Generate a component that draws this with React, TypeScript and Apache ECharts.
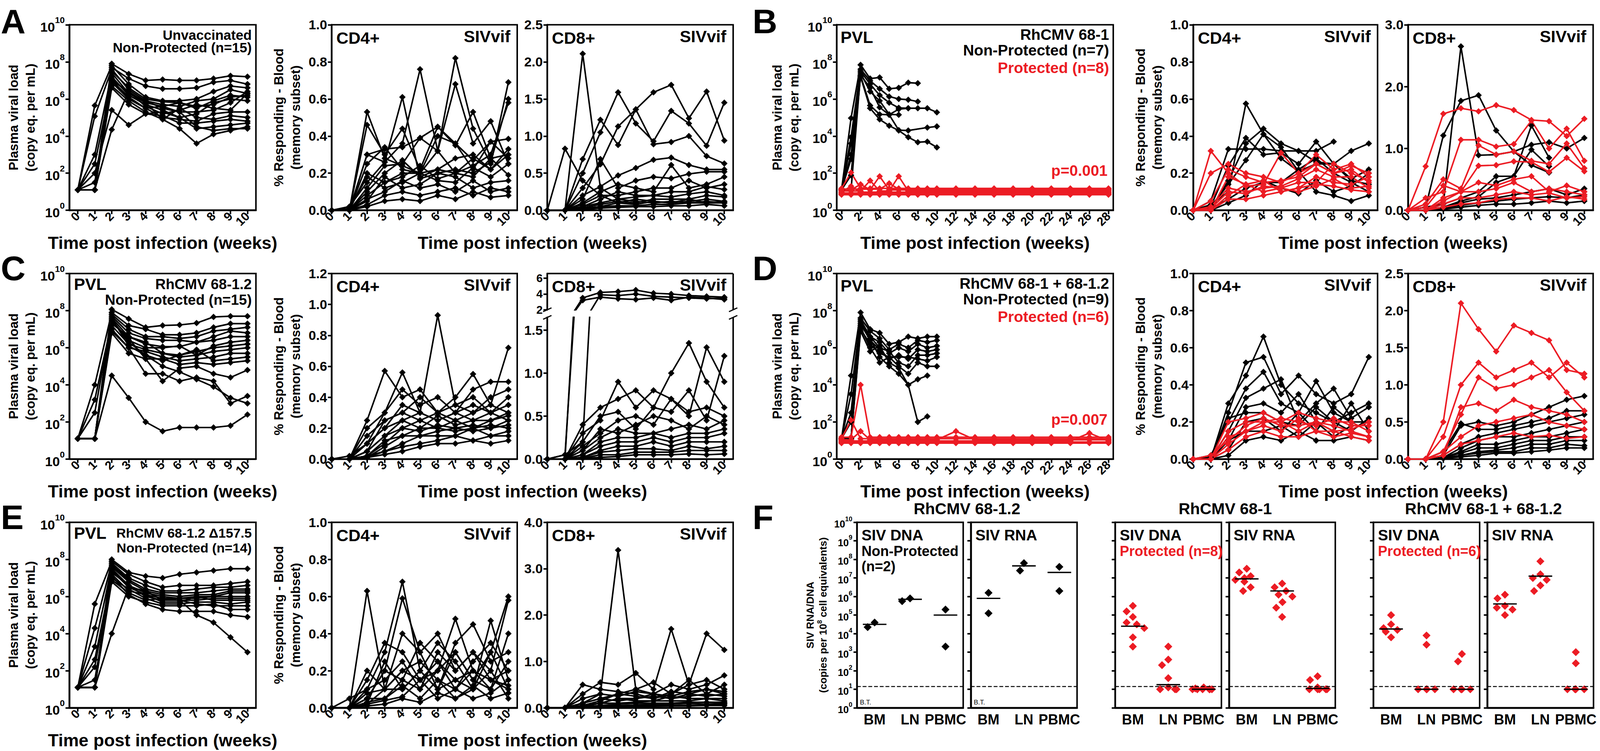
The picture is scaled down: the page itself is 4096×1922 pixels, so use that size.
import React, { useEffect, useRef } from "react";
import * as echarts from "echarts";

const S = 0.975;
const FONT = "'Liberation Sans', Arial, Helvetica, sans-serif";
const BLACK = "#000000";
const RED = "#ec1c24";

// ---------- axes, ticks, categories ----------
const WEEKS = [0, 1, 2, 3, 4, 5, 6, 7, 8, 9, 10];
const WEEKS_LONG = [0, 1, 2, 3, 4, 5, 6, 7, 8, 9, 10, 12, 14, 16, 18, 20, 22, 24, 26, 28];
const WEEK_TICKS_LONG = [0, 2, 4, 6, 8, 10, 12, 14, 16, 18, 20, 22, 24, 26, 28];
const PVL_TICKS = [0, 2, 4, 6, 8, 10]; // log10 exponents
const CD_TICKS_10 = [0, 0.2, 0.4, 0.6, 0.8, 1.0];
const CD_TICKS_12 = [0, 0.2, 0.4, 0.6, 0.8, 1.0, 1.2];
const CD8_TICKS_25 = [0, 0.5, 1.0, 1.5, 2.0, 2.5];
const CD8_TICKS_3 = [0, 1, 2, 3];
const CD8_TICKS_4 = [0, 1, 2, 3, 4];
const CD8C_UPPER_TICKS = [2, 4, 6];
const CD8C_LOWER_TICKS = [0, 0.5, 1.0, 1.5];
const F_TICKS = [0, 1, 2, 3, 4, 5, 6, 7, 8, 9, 10];
const F_CATEGORIES = ["BM", "LN", "PBMC"];
const F_LOD_LOG10 = 1.15;

// ---------- A: Unvaccinated (log10 copies/mL) ----------
const pvlA_log10 = [
  [1.1, 1.1, 7.9, 7.35, 7.0, 7.05, 7.0, 7.0, 7.1, 7.25, 7.2],
  [1.1, 1.1, 7.7, 7.1, 6.7, 6.55, 6.55, 6.6, 6.9, 7.0, 6.8],
  [1.1, 5.65, 7.8, 6.8, 6.1, 5.9, 5.9, 6.0, 6.4, 6.7, 6.6],
  [1.1, 1.1, 7.5, 6.6, 6.0, 5.85, 5.8, 5.6, 5.7, 6.1, 6.2],
  [1.1, 5.07, 7.6, 6.5, 5.9, 5.5, 5.3, 5.3, 5.4, 5.8, 6.4],
  [1.1, 1.1, 7.2, 6.2, 5.7, 5.4, 5.0, 5.2, 5.8, 6.0, 5.9],
  [1.1, 1.1, 7.0, 6.4, 5.6, 5.2, 5.4, 5.7, 5.5, 5.4, 6.3],
  [1.1, 2.5, 6.9, 6.0, 5.5, 5.0, 4.9, 4.8, 5.2, 5.3, 5.3],
  [1.1, 1.1, 6.7, 5.9, 5.3, 4.9, 5.5, 5.0, 4.9, 5.1, 5.0],
  [1.1, 1.1, 6.6, 5.7, 5.2, 5.1, 4.7, 4.7, 4.8, 4.9, 4.8],
  [1.1, 2.0, 5.4, 4.6, 5.2, 5.3, 5.0, 4.4, 4.5, 4.6, 4.7],
  [1.1, 1.1, 4.35, 6.4, 5.8, 5.6, 5.3, 4.5, 4.3, 4.4, 4.4],
  [1.1, 3.0, 7.4, 6.3, 5.8, 4.9, 4.4, 3.6, 4.1, 4.3, 4.5],
  [1.1, 1.1, 7.0, 6.1, 5.5, 5.6, 5.8, 5.5, 5.9, 6.2, 6.1],
  [1.1, 1.5, 7.1, 6.3, 5.9, 5.7, 5.6, 5.9, 6.0, 6.5, 6.3],
];
const cd4A = [
  [0, 0, 0.3, 0.26, 0.36, 0.76, 0.32, 0.2, 0.28, 0.22, 0.3],
  [0, 0, 0.2, 0.15, 0.2, 0.2, 0.32, 0.82, 0.44, 0.25, 0.69],
  [0, 0.02, 0.15, 0.26, 0.61, 0.17, 0.2, 0.22, 0.2, 0.26, 0.6],
  [0, 0, 0.53, 0.28, 0.24, 0.2, 0.22, 0.2, 0.24, 0.3, 0.58],
  [0, 0, 0.46, 0.3, 0.44, 0.22, 0.45, 0.35, 0.53, 0.28, 0.3],
  [0, 0, 0.12, 0.24, 0.25, 0.39, 0.32, 0.68, 0.36, 0.48, 0.25],
  [0, 0, 0.3, 0.33, 0.34, 0.39, 0.45, 0.36, 0.22, 0.37, 0.28],
  [0, 0, 0.25, 0.34, 0.22, 0.2, 0.4, 0.36, 0.27, 0.37, 0.385],
  [0, 0, 0.1, 0.2, 0.27, 0.18, 0.22, 0.28, 0.3, 0.22, 0.33],
  [0, 0, 0.08, 0.15, 0.18, 0.24, 0.17, 0.2, 0.18, 0.28, 0.19],
  [0, 0.01, 0.18, 0.12, 0.15, 0.2, 0.16, 0.15, 0.23, 0.18, 0.25],
  [0, 0, 0.05, 0.18, 0.12, 0.14, 0.2, 0.18, 0.12, 0.15, 0.16],
  [0, 0, 0.06, 0.1, 0.16, 0.12, 0.14, 0.1, 0.16, 0.1, 0.12],
  [0, 0, 0.03, 0.08, 0.1, 0.08, 0.1, 0.12, 0.08, 0.12, 0.1],
  [0, 0, 0.02, 0.05, 0.06, 0.05, 0.08, 0.06, 0.1, 0.07, 0.08],
];
const cd8A = [
  [0, 0, 2.11, 0.3, 0.15, 0.12, 0.1, 0.12, 0.1, 0.12, 0.1],
  [0, 0.83, 0.4, 0.2, 0.1, 0.15, 0.12, 0.1, 0.15, 0.1, 0.12],
  [0, 0, 0.5, 1.05, 1.59, 1.17, 0.93, 1.34, 1.17, 0.87, 1.45],
  [0, 0, 0.69, 1.22, 0.88, 1.36, 1.59, 1.69, 1.24, 1.6, 0.94],
  [0, 0, 0.3, 0.62, 1.13, 1.36, 0.89, 0.92, 1.0, 0.73, 0.63],
  [0, 0, 0.2, 0.32, 0.47, 0.57, 0.68, 0.71, 0.61, 0.55, 0.55],
  [0, 0, 0.15, 0.69, 0.3, 0.4, 0.45, 0.43, 0.49, 0.52, 0.52],
  [0, 0, 0.1, 0.25, 0.35, 0.3, 0.25, 0.61, 0.3, 0.35, 0.45],
  [0, 0, 0.08, 0.2, 0.2, 0.25, 0.3, 0.3, 0.4, 0.3, 0.35],
  [0, 0, 0.05, 0.15, 0.25, 0.2, 0.2, 0.25, 0.25, 0.32, 0.28],
  [0, 0, 0.05, 0.1, 0.15, 0.18, 0.2, 0.18, 0.22, 0.25, 0.2],
  [0, 0, 0.03, 0.08, 0.12, 0.1, 0.15, 0.15, 0.15, 0.2, 0.18],
  [0, 0, 0.02, 0.05, 0.1, 0.08, 0.12, 0.1, 0.12, 0.15, 0.12],
  [0, 0, 0.02, 0.05, 0.06, 0.06, 0.08, 0.08, 0.1, 0.1, 0.1],
  [0, 0, 0.01, 0.03, 0.04, 0.05, 0.05, 0.06, 0.06, 0.08, 0.06],
];

// ---------- B: RhCMV 68-1 ----------
const pvlB_nonProtected_log10 = [
  [1.1, 4.97, 7.84, 7.1, 7.16, 6.55, 6.6, 6.88, 6.85],
  [1.1, 3.94, 7.6, 6.98, 6.55, 6.13, 6.0, 5.96, 5.86],
  [1.1, 3.6, 7.5, 6.8, 6.2, 5.8, 5.52, 5.5, 5.5, 5.5, 5.28],
  [1.1, 2.77, 7.3, 6.6, 5.55, 5.15, 5.45, 5.5],
  [1.1, 1.89, 7.25, 5.65, 5.17, 5.15, 4.32, 4.3, null, 4.46, 4.52],
  [1.1, 3.0, 7.2, 5.5, 4.9, 4.56, 4.3, 3.94, 3.67, 3.7, 3.39],
  [1.1, 1.1, 7.4, 6.4, 5.9, 5.17, 5.15],
];
const pvlB_protected_log10 = [
  [1.18, 2.03, 1.18, 1.18, 1.18, 1.18, 1.18, 1.18, 1.18, 1.18, 1.18, 1.18, 1.18, 1.18, 1.18, 1.18, 1.18, 1.18, 1.18, 1.18],
  [1.1, 1.1, 1.4, 1.1, 1.83, 1.1, 1.1, 1.1, 1.1, 1.1, 1.1, 1.1, 1.1, 1.1, 1.1, 1.1, 1.1, 1.1, 1.1, 1.1],
  [1.04, 1.04, 1.04, 1.6, 1.04, 1.04, 1.83, 1.04, 1.04, 1.04, 1.04, 1.04, 1.04, 1.04, 1.04, 1.04, 1.04, 1.04, 1.04, 1.04],
  [0.98, 1.3, 0.98, 0.98, 0.98, 0.98, 0.98, 0.98, 0.98, 0.98, 0.98, 0.98, 0.98, 0.98, 0.98, 0.98, 0.98, 0.98, 0.98, 0.98],
  [0.93, 0.93, 0.93, 0.93, 0.93, 0.93, 0.93, 0.93, 0.93, 0.93, 0.93, 0.93, 0.93, 0.93, 0.93, 0.93, 0.93, 0.93, 0.93, 0.93],
  [0.88, 0.88, 0.88, 0.88, 0.88, 0.88, 0.88, 0.88, 0.88, 0.88, 0.88, 0.88, 0.88, 0.88, 0.88, 0.88, 0.88, 0.88, 0.88, 0.88],
  [0.84, 0.84, 0.84, 0.84, 0.84, 0.84, 0.84, 0.84, 0.84, 0.84, 0.84, 0.84, 0.84, 0.84, 0.84, 0.84, 0.84, 0.84, 0.84, 0.84],
  [1.14, 1.14, 1.14, 1.14, 1.14, 1.45, 1.14, 1.14, 1.14, 1.14, 1.14, 1.14, 1.14, 1.14, 1.14, 1.14, 1.14, 1.14, 1.14, 1.14],
];
const cd4B_nonProtected = [
  [0, 0.03, 0.1, 0.575, 0.41, 0.28, 0.21, 0.1, 0.08, 0.05, 0.08],
  [0, 0.05, 0.33, 0.33, 0.33, 0.32, 0.32, 0.26, 0.25, 0.32, 0.36],
  [0, 0.02, 0.24, 0.39, 0.3, 0.31, 0.25, 0.37, 0.25, 0.17, 0.22],
  [0, 0, 0.16, 0.36, 0.44, 0.36, 0.32, 0.32, 0.37],
  [0, 0.02, 0.14, 0.27, 0.41, 0.34, 0.21, 0.25, 0.25, 0.16, 0.14],
  [0, 0.01, 0.06, 0.12, 0.15, 0.15, 0.22, 0.28, 0.2, 0.15, 0.1],
  [0, 0, 0.04, 0.08, 0.16, 0.12, 0.09, 0.16, 0.1, 0.13, 0.2],
];
const cd4B_protected = [
  [0, 0.32, 0.2, 0.13, 0.14, 0.31, 0.2, 0.3, 0.22, 0.25, 0.18],
  [0, 0.2, 0.25, 0.2, 0.18, 0.15, 0.2, 0.25, 0.2, 0.24, 0.2],
  [0, 0.05, 0.22, 0.18, 0.15, 0.16, 0.18, 0.25, 0.2, 0.22, 0.15],
  [0, 0.02, 0.12, 0.1, 0.12, 0.13, 0.17, 0.22, 0.18, 0.18, 0.12],
  [0, 0, 0.18, 0.14, 0.1, 0.12, 0.15, 0.15, 0.25, 0.2, 0.16],
  [0, 0, 0.08, 0.14, 0.16, 0.1, 0.12, 0.18, 0.15, 0.14, 0.18],
  [0, 0.01, 0.1, 0.09, 0.13, 0.12, 0.1, 0.13, 0.17, 0.12, 0.13],
  [0, 0, 0.06, 0.06, 0.08, 0.1, 0.12, 0.14, 0.13, 0.11, 0.1],
];
const cd8B_nonProtected = [
  [0, 0.05, 0.1, 2.65, 0.89, 0.9, 0.95, 1.06, 1.1, 1.0, 1.17],
  [0, 0.05, 1.21, 1.77, 1.86, 1.29, 0.95, 0.73, 0.61],
  [0, 0, 0.1, 0.2, 0.3, 0.55, 0.55, 1.37, 0.85],
  [0, 0, 0.05, 0.15, 0.22, 0.45, 0.55, 0.98, 0.71],
  [0, 0, 0.05, 0.12, 0.18, 0.2, 0.25, 0.3, 0.35, 0.25, 0.35],
  [0, 0, 0.03, 0.08, 0.12, 0.15, 0.18, 0.2, 0.22, 0.2, 0.25],
  [0, 0, 0.02, 0.05, 0.08, 0.1, 0.1, 0.12, 0.15, 0.12, 0.15],
];
const cd8B_protected = [
  [0, 0.71, 1.56, 1.65, 1.6, 1.7, 1.62, 1.46, 1.44, 1.2, 1.48],
  [0, 0.2, 0.3, 1.14, 1.14, 1.03, 1.07, 1.45, 1.0, 1.32, 0.8],
  [0, 0.1, 0.5, 0.35, 1.05, 0.9, 0.95, 0.8, 0.75, 1.08, 0.68],
  [0, 0, 0.2, 0.3, 0.72, 0.73, 0.79, 0.78, 0.62, 0.85, 0.63],
  [0, 0.05, 0.4, 0.3, 0.45, 0.4, 0.5, 0.55, 0.3, 0.4, 0.3],
  [0, 0, 0.15, 0.3, 0.3, 0.35, 0.45, 0.3, 0.35, 0.3, 0.25],
  [0, 0, 0.1, 0.2, 0.2, 0.25, 0.3, 0.25, 0.28, 0.2, 0.22],
  [0, 0, 0.05, 0.1, 0.12, 0.18, 0.2, 0.2, 0.15, 0.22, 0.18],
];

// ---------- C: RhCMV 68-1.2 ----------
const pvlC_log10 = [
  [1.1, 1.1, 8.07, 7.56, 7.1, 7.2, 7.23, 7.33, 7.66, 7.7, 7.7],
  [1.1, 4.0, 7.9, 7.2, 7.0, 6.7, 6.7, 6.8, 7.1, 7.3, 7.3],
  [1.1, 1.1, 7.8, 7.0, 6.6, 6.6, 6.5, 6.6, 6.9, 7.0, 7.1],
  [1.1, 1.1, 7.7, 6.8, 6.5, 6.4, 6.4, 6.3, 6.6, 6.9, 6.8],
  [1.1, 2.5, 7.6, 6.6, 6.2, 6.06, 6.06, 6.3, 6.4, 6.6, 6.6],
  [1.1, 1.1, 7.5, 6.4, 6.0, 6.0, 6.1, 5.6, 6.1, 6.3, 6.4],
  [1.1, 1.1, 7.3, 6.6, 6.3, 5.7, 5.6, 5.8, 6.0, 6.1, 6.2],
  [1.1, 1.1, 7.2, 6.2, 5.9, 5.7, 5.5, 5.6, 5.8, 5.9, 6.0],
  [1.1, 1.1, 7.0, 6.0, 5.8, 5.5, 5.3, 5.4, 5.5, 5.7, 5.7],
  [1.1, 1.1, 7.6, 6.1, 5.6, 5.3, 5.6, 5.9, 5.3, 5.4, 5.5],
  [1.1, 1.1, 6.8, 5.7, 5.4, 5.4, 5.1, 5.2, 5.1, 5.2, 5.3],
  [1.1, 3.2, 7.4, 6.5, 5.4, 4.2, 4.9, 5.0, 4.6, 4.4, 4.8],
  [1.1, 1.1, 6.9, 6.0, 4.6, 4.6, 4.2, 4.4, 4.2, 3.0, 3.4],
  [1.1, 1.1, 4.5, 3.3, 2.0, 1.5, 1.7, 1.7, 1.7, 1.8, 2.4],
  [1.1, 1.1, 7.5, 6.3, 5.6, 5.0, 4.7, 4.3, 3.9, 3.3, 3.0],
];
const cd4C = [
  [0, 0, 0.2, 0.3, 0.56, 0.3, 0.93, 0.35, 0.4, 0.3, 0.35],
  [0, 0, 0.25, 0.57, 0.4, 0.45, 0.3, 0.4, 0.55, 0.35, 0.72],
  [0, 0, 0.1, 0.3, 0.45, 0.35, 0.4, 0.3, 0.45, 0.5, 0.5],
  [0, 0, 0.15, 0.25, 0.3, 0.4, 0.3, 0.35, 0.3, 0.4, 0.45],
  [0, 0.02, 0.1, 0.2, 0.35, 0.3, 0.25, 0.3, 0.35, 0.3, 0.4],
  [0, 0, 0.05, 0.25, 0.3, 0.25, 0.3, 0.25, 0.3, 0.35, 0.3],
  [0, 0, 0.1, 0.2, 0.25, 0.3, 0.25, 0.3, 0.25, 0.25, 0.3],
  [0, 0, 0.05, 0.15, 0.25, 0.2, 0.28, 0.22, 0.25, 0.3, 0.25],
  [0, 0, 0.02, 0.1, 0.2, 0.25, 0.2, 0.25, 0.2, 0.25, 0.28],
  [0, 0, 0.05, 0.15, 0.2, 0.18, 0.22, 0.2, 0.22, 0.2, 0.25],
  [0, 0, 0.02, 0.12, 0.15, 0.2, 0.2, 0.18, 0.2, 0.22, 0.2],
  [0, 0, 0.01, 0.08, 0.15, 0.15, 0.18, 0.2, 0.18, 0.2, 0.22],
  [0, 0, 0.02, 0.05, 0.1, 0.15, 0.15, 0.15, 0.2, 0.15, 0.18],
  [0, 0, 0.01, 0.05, 0.08, 0.1, 0.12, 0.15, 0.12, 0.15, 0.15],
  [0, 0, 0.01, 0.03, 0.05, 0.08, 0.1, 0.1, 0.12, 0.1, 0.12],
];
const cd8C = [
  [0, 0, 3.5, 4.2, 4.3, 4.5, 4.1, 4.0, 3.8, 3.7, 3.6],
  [0, 0, 0.2, 3.9, 3.8, 4.0, 3.7, 3.6, 3.5, 3.4, 3.5],
  [0, 0.05, 3.2, 3.6, 3.4, 3.3, 3.5, 3.2, 3.6, 3.5, 3.3],
  [0, 0, 0.4, 0.6, 0.7, 0.8, 0.6, 1.0, 1.35, 0.9, 0.6],
  [0, 0, 0.3, 0.45, 0.9, 0.6, 0.8, 0.7, 0.5, 1.3, 0.9],
  [0, 0.05, 0.2, 0.5, 0.55, 0.35, 0.6, 0.55, 0.8, 0.45, 1.2],
  [0, 0, 0.15, 0.3, 0.45, 0.5, 0.4, 0.7, 0.55, 0.6, 0.5],
  [0, 0, 0.1, 0.35, 0.3, 0.4, 0.5, 0.45, 0.35, 0.5, 0.4],
  [0, 0, 0.1, 0.25, 0.35, 0.3, 0.3, 0.35, 0.4, 0.35, 0.45],
  [0, 0, 0.05, 0.2, 0.25, 0.25, 0.3, 0.25, 0.3, 0.3, 0.35],
  [0, 0, 0.05, 0.15, 0.2, 0.2, 0.25, 0.2, 0.25, 0.25, 0.3],
  [0, 0, 0.02, 0.1, 0.15, 0.15, 0.2, 0.15, 0.2, 0.2, 0.2],
  [0, 0, 0.02, 0.08, 0.1, 0.12, 0.12, 0.1, 0.15, 0.12, 0.15],
  [0, 0, 0.01, 0.05, 0.05, 0.08, 0.08, 0.08, 0.1, 0.1, 0.1],
  [0, 0, 0.01, 0.02, 0.03, 0.05, 0.05, 0.05, 0.06, 0.05, 0.06],
];

// ---------- D: RhCMV 68-1 + 68-1.2 ----------
const pvlD_nonProtected_log10 = [
  [1.1, 4.5, 7.9, 7.0, 6.8, 6.2, 6.3, 6.6, 6.5, 6.6, 6.6],
  [1.1, 3.5, 7.6, 6.9, 6.5, 5.9, 6.2, 6.0, 6.4, 6.3, 6.4],
  [1.1, 2.5, 7.5, 6.6, 6.3, 5.7, 6.0, 5.8, 6.2, 6.0, 6.1],
  [1.1, 1.1, 7.3, 6.4, 5.9, 5.4, 5.6, 5.4, 5.9, 5.8, 5.9],
  [1.1, 1.1, 7.2, 6.6, 6.0, 5.8, 5.2, 5.0, 5.6, 5.6, 5.7],
  [1.1, 1.1, 7.0, 6.2, 5.7, 5.5, 5.5, 5.5, 5.4, 5.3, 5.5],
  [1.1, 2.0, 7.1, 6.0, 5.2, 5.5, 5.0, 4.6, 5.2, 5.0, 5.0],
  [1.1, 1.1, 6.9, 5.8, 6.1, 5.2, 4.9, 4.0, 4.3, 4.5],
  [1.1, 1.1, 7.4, 6.5, 5.5, 5.0, 4.6, 4.0, 2.0, 2.3],
];
const pvlD_protected_log10 = [
  [1.18, 1.18, 4.0, 1.18, 1.18, 1.18, 1.18, 1.18, 1.18, 1.18, 1.18, 1.18, 1.18, 1.18, 1.18, 1.18, 1.18, 1.18, 1.18, 1.18],
  [1.1, 2.1, 1.1, 1.1, 1.1, 1.1, 1.1, 1.1, 1.1, 1.1, 1.1, 1.1, 1.1, 1.1, 1.1, 1.1, 1.1, 1.1, 1.1, 1.1],
  [1.04, 1.04, 1.5, 1.04, 1.04, 1.04, 1.04, 1.04, 1.04, 1.04, 1.04, 1.5, 1.04, 1.04, 1.04, 1.04, 1.04, 1.04, 1.04, 1.04],
  [0.98, 0.98, 0.98, 0.98, 0.98, 0.98, 0.98, 0.98, 0.98, 0.98, 0.98, 0.98, 0.98, 0.98, 0.98, 0.98, 0.98, 0.98, 1.4, 0.98],
  [0.92, 0.92, 0.92, 0.92, 0.92, 0.92, 0.92, 0.92, 0.92, 0.92, 0.92, 0.92, 0.92, 0.92, 0.92, 0.92, 0.92, 0.92, 0.92, 0.92],
  [0.86, 0.86, 0.86, 0.86, 0.86, 0.86, 0.86, 0.86, 0.86, 0.86, 0.86, 0.86, 0.86, 0.86, 0.86, 0.86, 0.86, 0.86, 0.86, 0.86],
];
const cd4D_nonProtected = [
  [0, 0, 0.3, 0.45, 0.66, 0.4, 0.3, 0.25, 0.2, 0.25, 0.3],
  [0, 0, 0.25, 0.52, 0.55, 0.35, 0.45, 0.35, 0.3, 0.35, 0.55],
  [0, 0.02, 0.2, 0.38, 0.47, 0.3, 0.25, 0.42, 0.25, 0.2, 0.2],
  [0, 0, 0.15, 0.33, 0.38, 0.43, 0.2, 0.3, 0.38, 0.22, 0.28],
  [0, 0, 0.1, 0.28, 0.3, 0.25, 0.35, 0.2, 0.15, 0.3, 0.15],
  [0, 0.01, 0.22, 0.25, 0.25, 0.2, 0.18, 0.28, 0.2, 0.15, 0.22],
  [0, 0, 0.05, 0.2, 0.22, 0.15, 0.25, 0.15, 0.28, 0.2],
  [0, 0, 0.1, 0.15, 0.15, 0.18, 0.12, 0.2, 0.12, 0.18],
  [0, 0, 0.02, 0.1, 0.12, 0.1, 0.15, 0.1, 0.1, 0.12, 0.1],
];
const cd4D_protected = [
  [0, 0, 0.2, 0.22, 0.25, 0.2, 0.25, 0.22, 0.2, 0.2, 0.15],
  [0, 0, 0.15, 0.2, 0.2, 0.22, 0.2, 0.18, 0.22, 0.18, 0.18],
  [0, 0.02, 0.1, 0.18, 0.22, 0.18, 0.18, 0.2, 0.18, 0.15, 0.12],
  [0, 0, 0.12, 0.15, 0.18, 0.15, 0.22, 0.15, 0.15, 0.16, 0.2],
  [0, 0, 0.08, 0.15, 0.2, 0.2, 0.15, 0.2, 0.15, 0.12, 0.1],
  [0, 0, 0.05, 0.12, 0.15, 0.12, 0.12, 0.15, 0.12, 0.14, 0.12],
];
const cd8D_nonProtected = [
  [0, 0, 0.05, 0.45, 0.5, 0.45, 0.5, 0.6, 0.7, 0.8, 0.85],
  [0, 0, 0.1, 0.48, 0.4, 0.4, 0.45, 0.5, 0.55, 0.65, 0.65],
  [0, 0, 0.05, 0.2, 0.3, 0.35, 0.4, 0.45, 0.5, 0.55, 0.6],
  [0, 0, 0.02, 0.15, 0.25, 0.3, 0.3, 0.35, 0.4, 0.45, 0.5],
  [0, 0, 0.02, 0.1, 0.2, 0.2, 0.25, 0.3, 0.3, 0.35, 0.4],
  [0, 0, 0.02, 0.08, 0.15, 0.15, 0.2, 0.25, 0.25, 0.3, 0.3],
  [0, 0, 0.01, 0.05, 0.1, 0.12, 0.15, 0.2, 0.2, 0.25, 0.25],
  [0, 0, 0.01, 0.05, 0.08, 0.1, 0.1, 0.15, 0.15, 0.2, 0.18],
  [0, 0, 0.01, 0.03, 0.05, 0.08, 0.08, 0.1, 0.12, 0.15, 0.15],
];
const cd8D_protected = [
  [0, 0, 0.5, 2.1, 1.75, 1.45, 1.8, 1.7, 1.6, 1.2, 1.15],
  [0, 0, 0.3, 1.0, 1.3, 1.1, 1.2, 1.3, 1.1, 1.3, 1.1],
  [0, 0, 0.1, 0.6, 1.1, 0.95, 1.0, 1.1, 1.2, 0.9, 0.65],
  [0, 0, 0.05, 0.7, 0.75, 0.65, 0.8, 0.7, 0.65, 0.6, 0.5],
  [0, 0, 0.1, 0.3, 0.45, 0.5, 0.55, 0.6, 0.5, 0.45, 0.4],
  [0, 0, 0.05, 0.2, 0.25, 0.3, 0.35, 0.3, 0.32, 0.28, 0.3],
];

// ---------- E: RhCMV 68-1.2 delta157.5 ----------
const pvlE_log10 = [
  [1.1, 1.1, 8.0, 7.3, 7.1, 7.0, 7.2, 7.3, 7.4, 7.5, 7.5],
  [1.1, 5.6, 7.9, 7.2, 6.8, 6.5, 6.6, 6.6, 6.6, 6.7, 6.8],
  [1.1, 4.3, 7.8, 7.0, 6.6, 6.3, 6.3, 6.4, 6.5, 6.5, 6.6],
  [1.1, 1.1, 7.7, 6.9, 6.4, 6.2, 6.2, 6.2, 6.3, 6.4, 6.4],
  [1.1, 3.3, 7.6, 6.8, 6.3, 6.1, 6.0, 6.1, 6.1, 6.3, 6.3],
  [1.1, 1.1, 7.5, 6.6, 6.2, 6.0, 5.9, 6.0, 6.0, 6.2, 6.2],
  [1.1, 1.1, 7.4, 6.5, 6.1, 5.9, 5.9, 5.9, 6.0, 6.0, 6.0],
  [1.1, 2.2, 7.3, 6.6, 6.0, 5.8, 5.8, 5.8, 5.9, 5.9, 5.9],
  [1.1, 1.1, 7.2, 6.3, 6.1, 5.7, 5.7, 6.0, 5.8, 5.8, 5.8],
  [1.1, 1.1, 7.0, 6.4, 5.9, 5.6, 5.6, 5.7, 5.7, 5.6, 5.7],
  [1.1, 1.5, 6.9, 6.2, 5.8, 5.9, 5.8, 5.6, 5.5, 5.5, 5.5],
  [1.1, 1.1, 6.8, 6.0, 5.7, 5.5, 5.5, 5.5, 5.6, 5.3, 5.3],
  [1.1, 1.1, 4.0, 6.5, 6.3, 5.8, 5.8, 5.0, 4.6, 3.8, 3.0],
  [1.1, 2.6, 7.1, 6.1, 5.6, 5.3, 5.2, 5.2, 5.2, 5.0, 4.9],
];
const cd4E = [
  [0, 0, 0.63, 0.1, 0.2, 0.15, 0.25, 0.1, 0.2, 0.15, 0.1],
  [0, 0.05, 0.1, 0.3, 0.68, 0.2, 0.1, 0.3, 0.15, 0.3, 0.6],
  [0, 0, 0.05, 0.2, 0.59, 0.3, 0.4, 0.2, 0.3, 0.15, 0.2],
  [0, 0, 0.15, 0.35, 0.3, 0.15, 0.2, 0.48, 0.2, 0.1, 0.25],
  [0, 0, 0.2, 0.1, 0.4, 0.3, 0.1, 0.35, 0.45, 0.25, 0.3],
  [0, 0, 0.05, 0.2, 0.15, 0.35, 0.25, 0.15, 0.1, 0.47, 0.15],
  [0, 0, 0.1, 0.15, 0.25, 0.1, 0.3, 0.2, 0.3, 0.2, 0.58],
  [0, 0, 0.02, 0.25, 0.1, 0.2, 0.35, 0.25, 0.1, 0.3, 0.1],
  [0, 0, 0.08, 0.1, 0.2, 0.25, 0.15, 0.1, 0.25, 0.35, 0.2],
  [0, 0, 0.05, 0.05, 0.15, 0.1, 0.2, 0.3, 0.15, 0.1, 0.4],
  [0, 0, 0.02, 0.1, 0.1, 0.2, 0.1, 0.15, 0.2, 0.15, 0.12],
  [0, 0, 0.03, 0.05, 0.12, 0.05, 0.15, 0.05, 0.1, 0.2, 0.05],
  [0, 0, 0.02, 0.04, 0.06, 0.15, 0.05, 0.1, 0.05, 0.08, 0.15],
  [0, 0, 0.01, 0.02, 0.05, 0.03, 0.08, 0.05, 0.12, 0.05, 0.08],
];
const cd8E = [
  [0, 0, 0.1, 0.3, 3.4, 0.4, 0.3, 0.2, 0.3, 0.4, 0.3],
  [0, 0, 0.3, 0.55, 0.5, 0.75, 0.4, 1.7, 0.5, 0.6, 0.4],
  [0, 0, 0.1, 0.2, 0.3, 0.4, 0.55, 0.3, 0.5, 1.6, 1.25],
  [0, 0, 0.05, 0.1, 0.2, 0.2, 0.3, 0.5, 0.4, 0.5, 0.7],
  [0, 0, 0.5, 0.4, 0.35, 0.3, 0.2, 0.3, 0.6, 0.3, 0.5],
  [0, 0, 0.2, 0.3, 0.25, 0.35, 0.3, 0.25, 0.35, 0.4, 0.35],
  [0, 0, 0.05, 0.15, 0.3, 0.25, 0.2, 0.35, 0.3, 0.25, 0.3],
  [0, 0, 0.1, 0.2, 0.15, 0.2, 0.25, 0.2, 0.25, 0.3, 0.25],
  [0, 0, 0.05, 0.1, 0.2, 0.15, 0.15, 0.25, 0.2, 0.2, 0.2],
  [0, 0, 0.03, 0.1, 0.1, 0.12, 0.15, 0.15, 0.15, 0.2, 0.15],
  [0, 0, 0.02, 0.05, 0.08, 0.1, 0.1, 0.1, 0.12, 0.12, 0.12],
  [0, 0, 0.02, 0.05, 0.05, 0.06, 0.08, 0.08, 0.1, 0.08, 0.1],
  [0, 0, 0.01, 0.03, 0.04, 0.05, 0.05, 0.05, 0.06, 0.06, 0.08],
  [0, 0, 0.01, 0.02, 0.02, 0.03, 0.03, 0.04, 0.04, 0.05, 0.05],
];

// ---------- F: tissue SIV RNA/DNA (log10 copies per 10^8 cells), [BM, LN, PBMC] ----------
const fDNA_68_1_2 = [[4.6, 4.35], [5.9, 5.75], [5.3, 3.3]];
const fDNA_68_1_2_median = [4.5, 5.85, 5.0];
const fRNA_68_1_2 = [[6.2, 5.1], [7.8, 7.4], [7.6, 6.3]];
const fRNA_68_1_2_median = [5.9, 7.65, 7.3];
const fDNA_68_1 = [
  [5.5, 5.2, 4.9, 4.6, 4.5, 4.3, 3.8, 3.3],
  [3.3, 2.6, 2.3, 1.6, 1.1, 1.0, 1.0, 1.0],
  [1.1, 1.05, 1.0, 1.0, 1.0, 1.0, 1.0, 1.0],
];
const fDNA_68_1_median = [4.4, 1.25, 1.0];
const fRNA_68_1 = [
  [7.5, 7.3, 7.1, 7.0, 6.9, 6.8, 6.5, 6.3],
  [6.7, 6.5, 6.3, 6.1, 6.0, 5.7, 5.4, 4.9],
  [1.7, 1.5, 1.1, 1.0, 1.0, 1.0, 1.0, 1.0],
];
const fRNA_68_1_median = [6.95, 6.3, 1.05];
const fDNA_combo = [
  [5.0, 4.5, 4.3, 4.2, 4.1, 3.8],
  [3.9, 3.4, 1.0, 1.0, 1.0, 1.0],
  [2.9, 2.5, 1.0, 1.0, 1.0, 1.0],
];
const fDNA_combo_median = [4.25, 1.0, 1.0];
const fRNA_combo = [
  [6.1, 5.9, 5.5, 5.4, 5.3, 5.0],
  [7.9, 7.2, 7.0, 6.9, 6.6, 6.3],
  [3.0, 2.4, 1.0, 1.0, 1.0, 1.0],
];
const fRNA_combo_median = [5.6, 7.1, 1.0];

// ---------- option builder ----------
function buildOption() {
  const grid: any[] = [];
  const xAxis: any[] = [];
  const yAxis: any[] = [];
  const extraX: any[] = [];
  const series: any[] = [];
  const graphic: any[] = [];
  const lab = { color: BLACK, fontWeight: "bold", fontFamily: FONT };
  const axLine = { show: true, onZero: false, lineStyle: { color: BLACK, width: 4.5 * S } };
  const xLabelStyle = {
    rotate: 45, fontSize: 32 * S, margin: 10 * S,
    interval: 0, showMinLabel: true, showMaxLabel: true, hideOverlap: false, ...lab,
  };

  const addGrid = (l: number, t: number, w: number, h: number, xa: any, ya: any, border = true) => {
    const i = grid.length;
    grid.push({
      left: l * S, top: t * S, width: w * S, height: h * S,
      show: border, borderColor: BLACK, borderWidth: 4 * S, backgroundColor: "rgba(0,0,0,0)",
      containLabel: false, outerBoundsMode: "none",
    });
    const { __lastLabel, ...xRest } = xa;
    xAxis.push({ gridIndex: i, ...xRest });
    yAxis.push({ gridIndex: i, ...ya });
    if (__lastLabel !== undefined) {
      // the last tick label lives on its own label-only axis so that it is never
      // dropped by the overlap check against its neighbour
      extraX.push({
        gridIndex: i, type: "value", min: xa.min, max: xa.max, position: "bottom",
        axisLine: { show: false }, axisTick: { show: false }, splitLine: { show: false },
        axisLabel: { show: true, customValues: [__lastLabel], ...xLabelStyle },
      });
    }
    return i;
  };

  const weekAxis = (min: number, max: number, ticks: number[]) => ({
    type: "value", min, max,
    axisLine: axLine,
    axisTick: { show: true, length: 10 * S, lineStyle: { color: BLACK, width: 4 * S }, customValues: ticks },
    axisLabel: { show: true, customValues: ticks.slice(0, -1), ...xLabelStyle },
    splitLine: { show: false },
    __lastLabel: ticks[ticks.length - 1],
  });

  const powRich = (b: number, s: number) => ({
    b: { fontSize: b * S, ...lab, lineHeight: b * 1.34 * S, verticalAlign: "bottom" },
    s: { fontSize: s * S, ...lab, lineHeight: s * S, verticalAlign: "top" },
  });
  const powFmt = (v: number) => `{b|10}{s|${Math.round(v)}}`;
  const dec1 = (v: number) => v.toFixed(1);
  const int0 = (v: number) => String(Math.round(v));

  const valAxis = (min: number, max: number, ticks: number[], fmt: any, o: any = {}) => {
    const a: any = {
      type: "value", min, max,
      axisLine: axLine,
      axisTick: { show: true, length: 10 * S, lineStyle: { color: BLACK, width: 4 * S }, customValues: ticks },
      axisLabel: {
        show: o.labels !== false, customValues: ticks, formatter: fmt,
        fontSize: (o.fs || 35) * S, margin: (o.margin || 12) * S,
        interval: 0, showMinLabel: true, showMaxLabel: true, hideOverlap: false, ...lab,
      },
      splitLine: { show: false },
    };
    if (o.rich) a.axisLabel.rich = o.rich;
    if (o.name) {
      a.name = o.name;
      a.nameLocation = "middle";
      a.nameRotate = 90;
      a.nameGap = o.nameGap * S;
      a.nameTextStyle = { fontSize: (o.nameSize || 34) * S, lineHeight: (o.nameLH || 44) * S, ...lab };
      if (o.nameRich) a.nameTextStyle.rich = o.nameRich;
    }
    return a;
  };

  const lineSeries = (gi: number, weeks: number[], rows: (number | null)[][], color: string) =>
    rows.map((r) => ({
      type: "line", xAxisIndex: gi, yAxisIndex: gi, silent: true, animation: false,
      symbol: "diamond", symbolSize: 17 * S, showSymbol: true, showAllSymbol: true,
      lineStyle: { color, width: 4 * S }, itemStyle: { color, borderWidth: 0, opacity: 1 },
      emphasis: { disabled: true }, clip: true,
      data: r.map((v, i) => [weeks[i], v]).filter((d) => d[1] !== null),
    }));

  const T = (x: number, y: number, text: string, size: number, align = "left", color = BLACK, weight = "bold") => {
    graphic.push({
      type: "text", x: x * S, y: y * S, silent: true, z: 100,
      style: {
        text, fill: color, fontSize: size * S, fontWeight: weight, fontFamily: FONT,
        align, verticalAlign: "middle", textAlign: align, textVerticalAlign: "middle",
      },
    });
  };
  const L = (x1: number, y1: number, x2: number, y2: number, w = 4) => {
    graphic.push({
      type: "line", silent: true, z: 90,
      shape: { x1: x1 * S, y1: y1 * S, x2: x2 * S, y2: y2 * S },
      style: { stroke: BLACK, lineWidth: w * S },
    });
  };

  const ROW_TOP = [65, 718, 1371];
  const PH = 487;
  const LP = { l: 182, w: 490 };
  const LC4 = { l: 871, w: 487 };
  const LC8 = { l: 1437, w: 488 };
  const RP = { l: 2197, w: 726 };
  const RC4 = { l: 3133, w: 484 };
  const RC8 = { l: 3697, w: 486 };
  const PVL_NAME = "Plasma viral load\n(copy eq. per mL)";
  const CD_NAME = "% Responding - Blood\n(memory subset)";
  const XTITLE = "Time post infection (weeks)";

  const cdLabels = (l: number, w: number, t: number, name: string) => {
    T(l + 12, t + 34, name, 44);
    T(l + w - 18, t + 30, "SIVvif", 44, "right");
  };

  // ----- left block rows A, C, E -----
  const leftRow = (row: number, pvl: number[][], cd4: number[][], cd8: number[][] | null, cd4Max: number, cd4Ticks: number[], cd8Max: number, cd8Ticks: number[]) => {
    const t = ROW_TOP[row];
    const g1 = addGrid(LP.l, t, LP.w, PH, weekAxis(-0.5, 10.5, WEEKS),
      valAxis(0, 10, PVL_TICKS, powFmt, { rich: powRich(35, 23), name: PVL_NAME, nameGap: 80 }));
    series.push(...lineSeries(g1, WEEKS, pvl, BLACK));
    const g2 = addGrid(LC4.l, t, LC4.w, PH, weekAxis(0, 10.5, WEEKS),
      valAxis(0, cd4Max, cd4Ticks, dec1, { name: CD_NAME, nameGap: 73 }));
    series.push(...lineSeries(g2, WEEKS, cd4, BLACK));
    if (cd8) {
      const g3 = addGrid(LC8.l, t, LC8.w, PH, weekAxis(0, 10.5, WEEKS), valAxis(0, cd8Max, cd8Ticks, dec1));
      series.push(...lineSeries(g3, WEEKS, cd8, BLACK));
    }
    cdLabels(LC4.l, LC4.w, t, "CD4+");
    cdLabels(LC8.l, LC8.w, t, "CD8+");
    T(LP.l + LP.w / 2, t + 572, XTITLE, 46, "center");
    T((LC4.l + LC8.l + LC8.w) / 2, t + 572, XTITLE, 46, "center");
  };

  leftRow(0, pvlA_log10, cd4A, cd8A, 1.0, CD_TICKS_10, 2.5, CD8_TICKS_25);
  leftRow(1, pvlC_log10, cd4C, null, 1.2, CD_TICKS_12, 0, []);
  leftRow(2, pvlE_log10, cd4E, cd8E, 1.0, CD_TICKS_10, 4.0, CD8_TICKS_4);

  // C CD8: broken y axis drawn as two stacked grids
  {
    const t = ROW_TOP[1];
    const upTop = t, upH = 95, loTop = t + 115, loH = PH - 115;
    const gu = addGrid(LC8.l, upTop, LC8.w, upH,
      { type: "value", min: 0, max: 10.5, show: false },
      valAxis(2, 6.6, CD8C_UPPER_TICKS, int0, { fs: 30 }), false);
    const gl = addGrid(LC8.l, loTop, LC8.w, loH, weekAxis(0, 10.5, WEEKS),
      valAxis(0, 1.65, CD8C_LOWER_TICKS, dec1), false);
    series.push(...lineSeries(gu, WEEKS, cd8C, BLACK));
    series.push(...lineSeries(gl, WEEKS, cd8C, BLACK));
    const r = LC8.l + LC8.w;
    L(LC8.l, upTop, r, upTop);
    L(r, upTop, r, upTop + upH);
    L(r, loTop, r, loTop + loH);
    L(LC8.l - 11, upTop + upH + 5, LC8.l + 11, upTop + upH - 5, 3);
    L(LC8.l - 11, loTop + 5, LC8.l + 11, loTop - 5, 3);
    L(r - 11, upTop + upH + 5, r + 11, upTop + upH - 5, 3);
    L(r - 11, loTop + 5, r + 11, loTop - 5, 3);
  }

  // ----- right block rows B, D -----
  const rightRow = (row: number, pvlNP: (number | null)[][], pvlP: number[][], cd4NP: number[][], cd4P: number[][], cd8NP: number[][], cd8P: number[][], cd8Max: number, cd8Ticks: number[]) => {
    const t = ROW_TOP[row];
    const g1 = addGrid(RP.l, t, RP.w, PH, weekAxis(-0.5, 28.5, WEEK_TICKS_LONG),
      valAxis(0, 10, PVL_TICKS, powFmt, { rich: powRich(35, 23), name: PVL_NAME, nameGap: 90 }));
    series.push(...lineSeries(g1, WEEKS, pvlNP, BLACK));
    series.push(...lineSeries(g1, WEEKS_LONG, pvlP, RED));
    const g2 = addGrid(RC4.l, t, RC4.w, PH, weekAxis(0, 10.5, WEEKS),
      valAxis(0, 1.0, CD_TICKS_10, dec1, { name: CD_NAME, nameGap: 73 }));
    series.push(...lineSeries(g2, WEEKS, cd4NP, BLACK));
    series.push(...lineSeries(g2, WEEKS, cd4P, RED));
    const g3 = addGrid(RC8.l, t, RC8.w, PH, weekAxis(0, 10.5, WEEKS), valAxis(0, cd8Max, cd8Ticks, dec1));
    series.push(...lineSeries(g3, WEEKS, cd8NP, BLACK));
    series.push(...lineSeries(g3, WEEKS, cd8P, RED));
    T(RP.l + 10, t + 32, "PVL", 44);
    cdLabels(RC4.l, RC4.w, t, "CD4+");
    cdLabels(RC8.l, RC8.w, t, "CD8+");
    T(RP.l + RP.w / 2, t + 572, XTITLE, 46, "center");
    T((RC4.l + RC8.l + RC8.w) / 2, t + 572, XTITLE, 46, "center");
  };
  rightRow(0, pvlB_nonProtected_log10, pvlB_protected_log10, cd4B_nonProtected, cd4B_protected, cd8B_nonProtected, cd8B_protected, 3.0, CD8_TICKS_3);
  rightRow(1, pvlD_nonProtected_log10, pvlD_protected_log10, cd4D_nonProtected, cd4D_protected, cd8D_nonProtected, cd8D_protected, 2.5, CD8_TICKS_25);

  // ----- panel letters -----
  const letters: [string, number, number][] = [["A", 2, 56], ["B", 1976, 56], ["C", 2, 705], ["D", 1976, 705], ["E", 2, 1358], ["F", 1976, 1358]];
  letters.forEach(([s, x, y]) => T(x, y, s, 90));

  // A legend
  T(661, ROW_TOP[0] + 27, "Unvaccinated", 36, "right");
  T(661, ROW_TOP[0] + 60, "Non-Protected (n=15)", 36, "right");
  // C legend
  T(LP.l + 12, ROW_TOP[1] + 28, "PVL", 44);
  T(661, ROW_TOP[1] + 28, "RhCMV 68-1.2", 38, "right");
  T(661, ROW_TOP[1] + 69, "Non-Protected (n=15)", 38, "right");
  // E legend
  T(LP.l + 12, ROW_TOP[2] + 28, "PVL", 44);
  T(661, ROW_TOP[2] + 28, "RhCMV 68-1.2 \u0394157.5", 35, "right");
  T(661, ROW_TOP[2] + 67, "Non-Protected (n=14)", 35, "right");
  // B legend
  const rr = RP.l + RP.w - 11;
  T(rr, ROW_TOP[0] + 26, "RhCMV 68-1", 40, "right");
  T(rr, ROW_TOP[0] + 67, "Non-Protected (n=7)", 40, "right");
  T(rr, ROW_TOP[0] + 113, "Protected (n=8)", 40, "right", RED);
  T(rr - 4, ROW_TOP[0] + 383, "p=0.001", 40, "right", RED);
  // D legend
  T(rr, ROW_TOP[1] + 26, "RhCMV 68-1 + 68-1.2", 40, "right");
  T(rr, ROW_TOP[1] + 67, "Non-Protected (n=9)", 40, "right");
  T(rr, ROW_TOP[1] + 113, "Protected (n=6)", 40, "right", RED);
  T(rr - 4, ROW_TOP[1] + 383, "p=0.007", 40, "right", RED);

  // ----- F: tissue dot plots -----
  const fTop = ROW_TOP[2];
  const FW = 279;
  const fBoxes = [2250, 2549, 2928, 3227, 3606, 3905];
  const fData = [fDNA_68_1_2, fRNA_68_1_2, fDNA_68_1, fRNA_68_1, fDNA_combo, fRNA_combo];
  const fMed = [fDNA_68_1_2_median, fRNA_68_1_2_median, fDNA_68_1_median, fRNA_68_1_median, fDNA_combo_median, fRNA_combo_median];
  const fColor = [BLACK, BLACK, RED, RED, RED, RED];
  fBoxes.forEach((bx, k) => {
    const first = k === 0;
    const ya = valAxis(0, 10, F_TICKS, powFmt, {
      labels: first, rich: powRich(26, 17), fs: 26, margin: 12,
      ...(first ? {
        name: "SIV RNA/DNA\n(copies per 10{u|8} cell equivalents)", nameGap: 72, nameSize: 27, nameLH: 34,
        nameRich: { u: { fontSize: 17 * S, ...lab, lineHeight: 17 * S, verticalAlign: "top" } },
      } : {}),
    });
    ya.axisTick.length = 9 * S;
    const xa = {
      type: "category", data: F_CATEGORIES, boundaryGap: true,
      axisLine: axLine, axisTick: { show: false },
      axisLabel: { interval: 0, fontSize: 37 * S, margin: 12 * S, ...lab },
      splitLine: { show: false },
      jitter: 62 * S, jitterOverlap: false, jitterMargin: 1,
    };
    const gi = addGrid(bx, fTop, FW, PH, xa, ya);
    const pts: number[][] = [];
    fData[k].forEach((vals, ci) => vals.forEach((v) => pts.push([ci, v])));
    series.push({
      type: "scatter", xAxisIndex: gi, yAxisIndex: gi, silent: true,
      symbol: "diamond", symbolSize: 21 * S, itemStyle: { color: fColor[k], opacity: 1 },
      data: pts, z: 3,
    });
    series.push({
      type: "line", xAxisIndex: gi, yAxisIndex: gi, silent: true,
      data: fMed[k].map((v, i) => [i, v]),
      symbol: "rect", symbolSize: [62 * S, 3.5 * S], showSymbol: true,
      lineStyle: { opacity: 0, width: 0 }, itemStyle: { color: BLACK, opacity: 1 }, z: 4,
      markLine: {
        silent: true, symbol: ["none", "none"], label: { show: false },
        lineStyle: { type: "dashed", color: BLACK, width: 2.5 * S },
        data: [{ yAxis: F_LOD_LOG10 }],
      },
    });
    const isDNA = k % 2 === 0;
    T(bx + 12, fTop + 34, isDNA ? "SIV DNA" : "SIV RNA", 40);
    if (first) {
      T(bx + 12, fTop + 76, "Non-Protected", 37);
      T(bx + 12, fTop + 116, "(n=2)", 37);
    }
    if (k === 2) T(bx + 12, fTop + 76, "Protected (n=8)", 37, "left", RED);
    if (k === 4) T(bx + 12, fTop + 76, "Protected (n=6)", 37, "left", RED);
    if (k < 2) T(bx + 8, fTop + PH - 14, "B.T.", 17, "left", BLACK, "normal");
  });
  T((fBoxes[0] + fBoxes[1] + FW) / 2, fTop - 36, "RhCMV 68-1.2", 42, "center");
  T((fBoxes[2] + fBoxes[3] + FW) / 2, fTop - 36, "RhCMV 68-1", 42, "center");
  T((fBoxes[4] + fBoxes[5] + FW) / 2, fTop - 36, "RhCMV 68-1 + 68-1.2", 42, "center");

  return {
    animation: false,
    backgroundColor: "#ffffff",
    textStyle: { fontFamily: FONT },
    grid, xAxis: [...xAxis, ...extraX], yAxis, series, graphic,
  };
}

export default function App() {
  const ref = useRef<HTMLDivElement>(null);
  useEffect(() => {
    if (!ref.current) return;
    const chart = echarts.init(ref.current, null, { renderer: "svg" });
    chart.setOption(buildOption() as any);
    return () => chart.dispose();
  }, []);
  return (
    <div
      ref={ref}
      style={{ position: "fixed", left: 0, top: 0, width: 4096, height: 1922, background: "#fff" }}
    />
  );
}
